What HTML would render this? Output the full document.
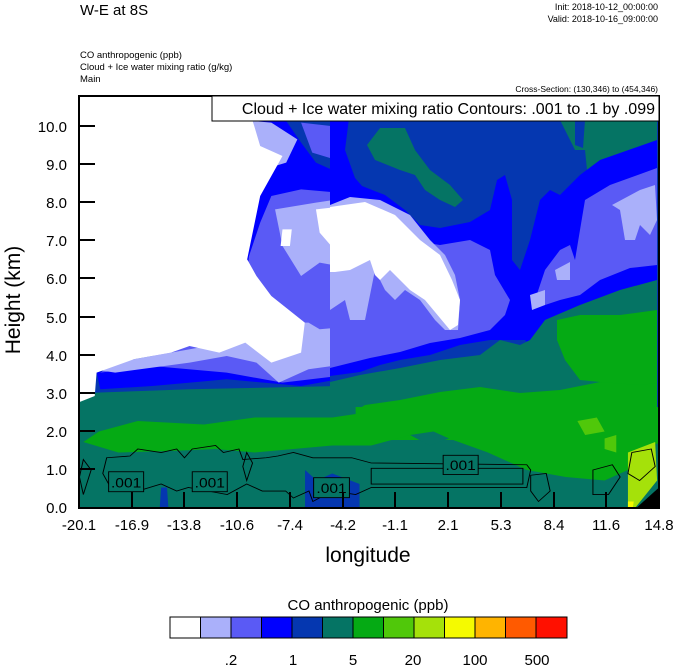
<!DOCTYPE html>
<html><head><meta charset="utf-8"><style>
body{margin:0;background:#fff;width:674px;height:667px;overflow:hidden}
svg{display:block}
text{font-family:"Liberation Sans",sans-serif}
</style></head><body>
<svg width="674" height="667" viewBox="0 0 674 667" xmlns="http://www.w3.org/2000/svg">
<defs><clipPath id="pc"><rect x="79" y="96" width="580" height="412"/></clipPath>
<clipPath id="rc"><rect x="330" y="96" width="330" height="344"/></clipPath></defs>
<text x="80" y="15" font-size="15">W-E at 8S</text>
<text x="658" y="10" font-size="9" text-anchor="end">Init: 2018-10-12_00:00:00</text>
<text x="658" y="22" font-size="9" text-anchor="end">Valid: 2018-10-16_09:00:00</text>
<text x="80" y="58" font-size="9.5">CO anthropogenic   (ppb)</text>
<text x="80" y="70" font-size="9.5">Cloud + Ice water mixing ratio   (g/kg)</text>
<text x="80" y="82" font-size="9.5">Main</text>
<text x="658" y="92" font-size="8.5" text-anchor="end">Cross-Section: (130,346) to (454,346)</text>
<g clip-path="url(#pc)">
<rect x="79" y="96" width="580" height="412" fill="#057464"/>
<g transform="translate(78,96) scale(0.3718,0.3333)">
<polygon fill="#0537b0" points="0,0 1565,0 1565,560 1450,600 1300,640 1200,700 1100,800 900,830 700,870 300,880 50,890 0,900"/>
<polygon fill="#0000ff" points="470,75 560,75 600,140 640,200 700,230 760,260 830,300 900,380 1000,400 1100,380 1150,300 1140,200 1160,90 1200,80 1220,250 1280,330 1350,310 1400,260 1565,230 1565,520 1450,560 1300,620 1230,700 1220,780 1180,720 1100,720 1000,740 900,780 800,830 600,870 400,850 200,870 60,880 50,830 150,800 300,770 450,500 470,300"/>
<polygon fill="#5a5af5" points="520,300 600,280 700,290 820,300 880,380 950,430 1100,420 1110,500 1050,560 1040,700 950,740 850,750 830,690 800,760 700,840 550,860 400,830 200,810 60,830 100,800 200,780 300,740 450,570 460,480 490,380"/>
<polygon fill="#5a5af5" points="600,80 680,90 690,190 630,170"/>
<polygon fill="#aab0fa" points="530,340 640,320 760,300 870,370 980,450 1000,520 1040,640 1030,710 960,700 900,620 850,560 820,650 790,600 750,520 650,500 600,540 550,450"/>
<polygon fill="#aab0fa" points="40,820 100,800 250,770 400,740 520,680 620,680 650,700 750,690 750,800 620,820 540,860 480,800 400,780 300,800 100,830"/>
<polygon fill="#aab0fa" points="470,75 520,80 590,130 560,200 500,220"/>
<polygon fill="#ffffff" points="0,0 470,0 470,75 490,150 550,180 520,240 490,300 455,490 480,540 520,600 610,680 600,770 520,800 450,740 380,770 300,750 250,770 150,790 50,830 45,900 0,920"/>
<polygon fill="#ffffff" points="640,340 720,330 780,320 850,350 900,410 950,440 990,500 1000,600 1030,660 1010,700 960,680 900,600 850,540 820,580 800,520 720,500 650,410"/>
<polygon fill="#ffffff" points="550,400 575,400 570,450 545,450"/>
</g>
<g clip-path="url(#rc)">
<rect x="330" y="96" width="330" height="344" fill="#0537b0"/>
<polygon fill="#057464" points="367,145 380,128 405,128 415,150 430,170 450,185 463,200 455,207 440,200 425,190 415,175 400,170 375,160"/>
<polygon fill="#057464" points="560,120 575,120 575,145 583,148 585,120 657,120 657,140 640,160 620,175 592,190 587,170 585,150 575,150"/>
<polygon fill="#0000ff" points="330,110 350,110 345,150 355,178 362,186 385,195 405,210 420,225 440,228 470,222 490,210 497,180 505,175 512,200 512,260 520,270 530,240 540,200 550,190 560,195 580,175 600,160 657,140 657,290 620,300 580,305 545,320 535,350 525,340 490,340 460,345 430,355 400,360 380,365 360,372 330,376"/>
<polygon fill="#5a5af5" points="330,235 360,225 395,238 440,245 470,240 490,250 495,275 510,300 505,315 490,330 460,338 430,343 400,352 370,358 330,368"/>
<polygon fill="#5a5af5" points="535,300 545,270 560,250 570,245 575,260 585,200 610,185 657,168 657,265 630,268 600,280 580,295 560,300 545,305"/>
<polygon fill="#aab0fa" points="330,205 350,197 380,200 410,215 430,240 445,255 455,275 460,300 458,330 445,330 435,320 420,300 405,290 395,300 385,290 375,270 370,295 365,320 350,320 345,300 330,310"/>
<polygon fill="#aab0fa" points="612,205 640,190 655,185 657,220 650,235 640,225 635,240 625,240 620,210"/>
<polygon fill="#aab0fa" points="555,270 570,262 570,280 557,280"/>
<polygon fill="#aab0fa" points="530,295 545,290 545,305 532,310"/>
<polygon fill="#ffffff" points="330,207 365,202 395,215 420,240 440,255 452,280 460,300 458,325 450,330 440,318 425,300 410,290 400,280 390,270 380,280 375,275 370,260 350,270 335,272 330,272"/>
<polygon fill="#057464" points="330,382 360,375 400,368 440,360 480,355 500,340 520,345 530,340 545,320 580,305 620,290 657,280 657,440 330,440"/>
<polygon fill="#05aa14" points="557,320 580,315 620,315 657,310 657,390 640,385 620,388 600,382 580,380 565,360 557,340"/>
<polygon fill="#05aa14" points="357,410 365,405 400,400 440,392 480,387 520,393 560,390 600,382 640,385 657,383 657,440 357,440"/>
</g>
<g transform="translate(60,400) scale(0.389,0.35)">
<polygon fill="#05aa14" points="60,120 100,90 200,60 370,70 500,50 700,50 760,40 760,20 1568,20 1568,110 1500,140 1460,200 1400,230 1300,220 1200,200 1100,150 1000,110 900,100 800,130 700,130 600,140 500,150 400,140 300,145 150,150"/>
<polygon fill="#057464" points="900,100 960,90 1000,110 950,130"/>
<polygon fill="#50c80a" points="1330,60 1380,50 1400,90 1350,100"/>
<polygon fill="#50c80a" points="1400,110 1430,100 1430,150 1400,140"/>
<polygon fill="#a5e10a" points="1460,150 1530,120 1535,230 1470,320 1460,320"/>
<polygon fill="#f5fa00" points="1460,290 1475,290 1470,325 1460,325"/>
<polygon fill="#000" points="1460,330 1540,250 1540,330"/>
<polygon fill="#0537b0" points="630,200 660,230 700,210 770,240 770,330 630,330"/>
<polygon fill="#0537b0" points="260,250 275,250 280,330 255,330"/>
<g fill="none" stroke="#000" stroke-width="2.5">
<path d="M120,165 L180,160 L200,140 L260,150 L300,140 L320,165 L340,140 L400,130 L420,150 L460,140 L470,170 L530,165 L560,160 L600,150 L650,165 L750,165 L800,180 L1200,185 L1210,200 L1200,250 L800,250 L760,270 L700,260 L650,290 L640,260 L600,280 L580,260 L520,260 L480,240 L430,270 L380,260 L330,250 L300,260 L260,240 L200,260 L130,250 L110,210 Z"/>
<path d="M800,195 L1190,195 L1190,240 L800,240 Z"/>
<path d="M1210,215 L1250,210 L1260,260 L1230,290 L1210,260 Z"/>
<path d="M1370,200 L1420,185 L1440,220 L1410,270 L1370,270 Z"/>
<path d="M1470,150 L1520,140 L1530,190 L1490,230 L1460,210 Z"/>
<path d="M60,170 L80,200 L60,270 L50,220 Z"/>
<path d="M480,150 L495,180 L480,230 L470,190 Z"/>
</g>
<g stroke="#000" stroke-width="2.5" fill="#057464">
<rect x="125" y="205" width="90" height="57"/>
<rect x="340" y="205" width="90" height="57"/>
<rect x="652" y="222" width="92" height="57"/>
<rect x="985" y="158" width="90" height="55"/>
</g>
<g font-size="40" text-anchor="middle" fill="#000">
<text x="170" y="250">.001</text><text x="385" y="250">.001</text>
<text x="698" y="266">.001</text><text x="1030" y="200">.001</text>
</g>
</g>
</g>
<rect x="79" y="96" width="580" height="412" fill="none" stroke="#000" stroke-width="2"/>
<rect x="212" y="96" width="447" height="25" fill="#fff" stroke="#000" stroke-width="1"/>
<text x="655" y="114" font-size="16" text-anchor="end">Cloud + Ice water mixing ratio Contours: .001 to .1 by .099</text>
<g stroke="#000" stroke-width="2">
<line x1="79" y1="126" x2="95" y2="126"/><line x1="79" y1="164" x2="95" y2="164"/><line x1="79" y1="202" x2="95" y2="202"/><line x1="79" y1="240" x2="95" y2="240"/><line x1="79" y1="278" x2="95" y2="278"/><line x1="79" y1="317" x2="95" y2="317"/><line x1="79" y1="355" x2="95" y2="355"/><line x1="79" y1="393" x2="95" y2="393"/><line x1="79" y1="431" x2="95" y2="431"/><line x1="79" y1="469" x2="95" y2="469"/>
<line x1="132" y1="508" x2="132" y2="492"/><line x1="184" y1="508" x2="184" y2="492"/><line x1="237" y1="508" x2="237" y2="492"/><line x1="290" y1="508" x2="290" y2="492"/><line x1="343" y1="508" x2="343" y2="492"/><line x1="395" y1="508" x2="395" y2="492"/><line x1="448" y1="508" x2="448" y2="492"/><line x1="501" y1="508" x2="501" y2="492"/><line x1="554" y1="508" x2="554" y2="492"/><line x1="606" y1="508" x2="606" y2="492"/>
</g>
<g font-size="15" text-anchor="end">
<text x="67" y="132">10.0</text><text x="67" y="170">9.0</text><text x="67" y="208">8.0</text><text x="67" y="246">7.0</text><text x="67" y="284">6.0</text><text x="67" y="323">5.0</text><text x="67" y="361">4.0</text><text x="67" y="399">3.0</text><text x="67" y="437">2.0</text><text x="67" y="475">1.0</text><text x="67" y="513">0.0</text>
</g>
<g font-size="15" text-anchor="middle">
<text x="79" y="530">-20.1</text><text x="132" y="530">-16.9</text><text x="184" y="530">-13.8</text><text x="237" y="530">-10.6</text><text x="290" y="530">-7.4</text><text x="343" y="530">-4.2</text><text x="395" y="530">-1.1</text><text x="448" y="530">2.1</text><text x="501" y="530">5.3</text><text x="554" y="530">8.4</text><text x="606" y="530">11.6</text><text x="659" y="530">14.8</text>
</g>
<text x="368" y="562" font-size="21" text-anchor="middle">longitude</text>
<text transform="translate(20,300) rotate(-90)" font-size="21" text-anchor="middle">Height (km)</text>
<text x="368" y="610" font-size="15" text-anchor="middle">CO anthropogenic  (ppb)</text>
<g stroke="#000" stroke-width="1">
<rect x="170" y="617" width="30.5" height="21" fill="#fff"/>
<rect x="200.5" y="617" width="30.5" height="21" fill="#aab0fa"/>
<rect x="231" y="617" width="30.5" height="21" fill="#5a5af5"/>
<rect x="261.5" y="617" width="30.5" height="21" fill="#0000ff"/>
<rect x="292" y="617" width="30.5" height="21" fill="#0537b0"/>
<rect x="322.5" y="617" width="30.5" height="21" fill="#057464"/>
<rect x="353" y="617" width="30.5" height="21" fill="#05aa14"/>
<rect x="383.5" y="617" width="30.5" height="21" fill="#50c80a"/>
<rect x="414" y="617" width="30.5" height="21" fill="#a5e10a"/>
<rect x="444.5" y="617" width="30.5" height="21" fill="#f5fa00"/>
<rect x="475" y="617" width="30.5" height="21" fill="#ffb400"/>
<rect x="505.5" y="617" width="30.5" height="21" fill="#ff5a00"/>
<rect x="536" y="617" width="31" height="21" fill="#ff1000"/>
</g>
<g font-size="15" text-anchor="middle">
<text x="231" y="665">.2</text><text x="293" y="665">1</text><text x="353" y="665">5</text><text x="413" y="665">20</text><text x="475" y="665">100</text><text x="537" y="665">500</text>
</g>
</svg>
</body></html>
